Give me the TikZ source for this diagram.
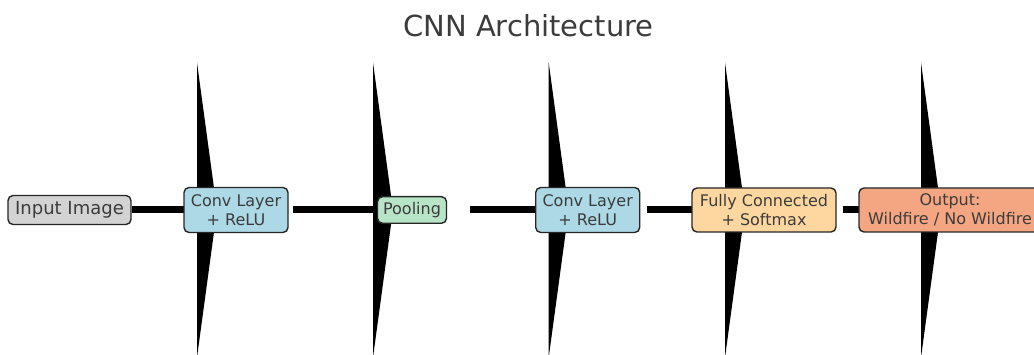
\documentclass[tikz,border=0pt]{standalone}
\usepackage{fontspec}
\setmainfont{DejaVu Sans}
\usetikzlibrary{arrows.meta,backgrounds}
\definecolor{txtgray}{HTML}{3C3C3C}
\definecolor{edgegray}{HTML}{262626}
\definecolor{inputgray}{HTML}{D3D3D3}
\definecolor{convblue}{HTML}{ADD8E6}
\definecolor{poolgreen}{HTML}{B8E4C8}
\definecolor{fcorange}{HTML}{FED7A0}
\definecolor{outsalmon}{HTML}{F4A582}
\begin{document}
\begin{tikzpicture}[x=1pt,y=1pt,
  box/.style={draw=edgegray,line width=1.4pt,rounded corners=5pt,text=txtgray,
    align=center,inner sep=0pt,font=\fontsize{16}{19}\selectfont},
  flow/.style={line width=7pt,-{Triangle[length=20pt,width=295pt,line width=0pt]},
    shorten >=19pt}]
\useasboundingbox (0,0) rectangle (1034,355);

\node[text=txtgray,font=\fontsize{29}{34}\selectfont,anchor=base] (title) at (528.4,318.3) {CNN Architecture};

\node[box,fill=inputgray,minimum width=123pt,minimum height=29pt,font=\fontsize{18}{21}\selectfont] (input) at (69.5,145) {Input Image};
\node[box,fill=convblue,minimum width=104pt,minimum height=45pt] (conv1) at (236,145) {Conv Layer\\+ ReLU};
\node[box,fill=poolgreen,minimum width=69pt,minimum height=26.6pt] (pool) at (412,145) {Pooling};
\node[box,fill=convblue,minimum width=104pt,minimum height=45pt] (conv2) at (587.7,145) {Conv Layer\\+ ReLU};
\node[box,fill=fcorange,minimum width=144pt,minimum height=44pt] (fc) at (764,145) {Fully Connected\\+ Softmax};
\node[box,fill=outsalmon,minimum width=182pt,minimum height=44pt] (out) at (950,145) {Output:\\Wildfire / No Wildfire};

\begin{scope}[on background layer]
\draw[flow] (input.east) -- (conv1.center);
\draw[flow,shorten <=4pt] (conv1.east) -- (pool.center);
\draw[flow,shorten <=23pt] (pool.east) -- (conv2.center);
\draw[flow,shorten <=6.5pt] (conv2.east) -- (fc.center);
\draw[flow,shorten <=6pt,shorten >=9pt] (fc.east) -- (out.center);
\end{scope}
\end{tikzpicture}
\end{document}
